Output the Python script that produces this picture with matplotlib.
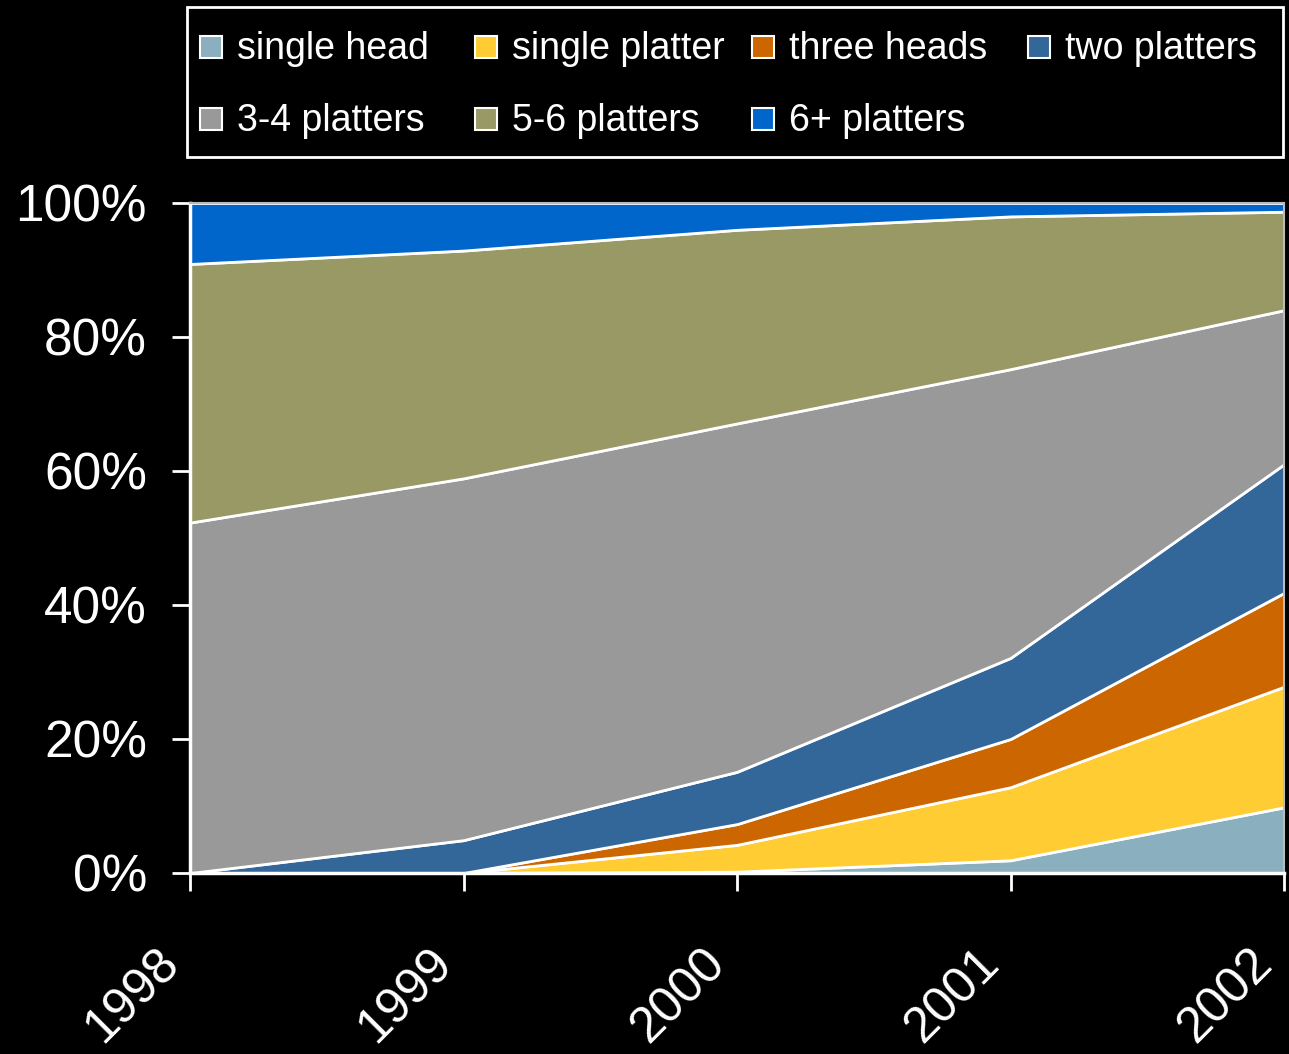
import matplotlib
matplotlib.use("Agg")
import matplotlib.pyplot as plt
from matplotlib.patches import Rectangle
from matplotlib.ticker import FuncFormatter
from matplotlib.transforms import ScaledTranslation

# Market share (%) of drive configurations per year
years = [1998, 1999, 2000, 2001, 2002]
labels = ["single head", "single platter", "three heads", "two platters",
          "3-4 platters", "5-6 platters", "6+ platters"]
single_head = [0.0, 0.0, 0.2, 1.9, 9.8]
single_platter = [0.0, 0.0, 4.0, 10.9, 18.0]
three_heads = [0.0, 0.0, 3.1, 7.2, 14.0]
two_platters = [0.0, 4.9, 7.8, 12.1, 19.2]
platters_3_4 = [52.3, 54.0, 52.0, 43.1, 23.0]
platters_5_6 = [38.6, 34.0, 28.9, 22.8, 14.7]
platters_6_plus = [9.1, 7.1, 4.0, 2.0, 1.3]
y_ticks = [0, 20, 40, 60, 80, 100]

colors = ["#8AAFBE", "#FFCC33", "#CC6600", "#336699",
          "#999999", "#999966", "#0066CC"]
series = [single_head, single_platter, three_heads, two_platters,
          platters_3_4, platters_5_6, platters_6_plus]

plt.rcParams["font.family"] = ["Liberation Sans", "DejaVu Sans"]

W, H = 1289, 1054
fig = plt.figure(figsize=(W / 100, H / 100), dpi=100, facecolor="black")
ax = fig.add_axes([190 / W, 1 - 873 / H, (1284 - 190) / W, (873 - 203) / H])
ax.set_facecolor("black")

ax.stackplot(years, *series, colors=colors, edgecolor="white", linewidth=2.0)

ax.set_xlim(years[0], years[-1])
ax.set_ylim(0, 100)
ax.set_xticks(years)
ax.set_yticks(y_ticks)
ax.yaxis.set_major_formatter(FuncFormatter(lambda v, p: f"{v:.0f}%"))

for side in ("left", "bottom"):
    ax.spines[side].set_color("white")
    ax.spines[side].set_linewidth(2.5)
for side in ("top", "right"):
    ax.spines[side].set_color("#BBBBBB")
    ax.spines[side].set_linewidth(1.5)

ax.tick_params(axis="both", colors="white", length=13, width=2.0)
ax.tick_params(axis="y", labelsize=37, pad=18)
ax.tick_params(axis="x", labelbottom=False)

# Rotated year labels, shifted below and to the left of each tick
year_offset = ScaledTranslation(-0.35, -0.67, fig.dpi_scale_trans)
for yr in years:
    ax.text(yr, 0, str(yr), transform=ax.get_xaxis_transform() + year_offset,
            rotation=45, rotation_mode="anchor", ha="right", va="top",
            color="white", fontsize=36)

# Legend box drawn in figure pixel coordinates
def fx(px):
    return px / W

def fy(py):
    return 1 - py / H

fig.patches.append(Rectangle((fx(187), fy(157)), fx(1283) - fx(187),
                             fy(7) - fy(157), transform=fig.transFigure,
                             facecolor="black", edgecolor="white",
                             linewidth=2.0))
col_x = [200, 475, 752, 1028]
row_y = [47, 119]
for i, (lab, col) in enumerate(zip(labels, colors)):
    cx = col_x[i % 4]
    cy = row_y[i // 4]
    fig.patches.append(Rectangle((fx(cx), fy(cy + 11)), fx(22), 22 / H,
                                 transform=fig.transFigure, facecolor=col,
                                 edgecolor="white", linewidth=1.5))
    fig.text(fx(cx + 37), fy(cy + 2), lab, color="white", fontsize=27,
             ha="left", va="center")

fig.savefig("out.png", dpi=100, facecolor="black")
